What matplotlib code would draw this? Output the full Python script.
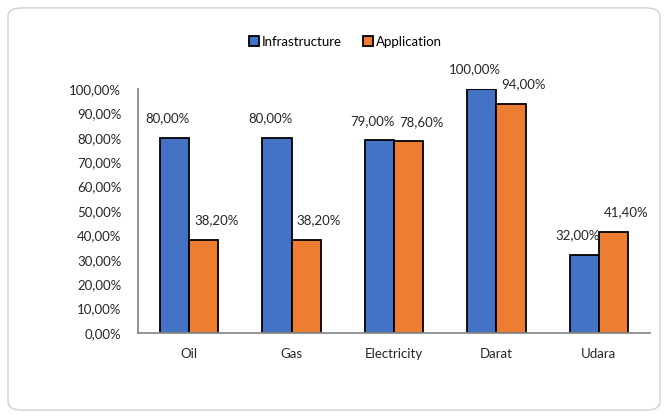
import matplotlib

matplotlib.use("Agg")
import matplotlib.pyplot as plt
import numpy as np
from matplotlib.patches import FancyBboxPatch
from matplotlib.ticker import FuncFormatter

CATEGORIES = ["Oil", "Gas", "Electricity", "Darat", "Udara"]
INFRASTRUCTURE = [0.80, 0.80, 0.79, 1.00, 0.32]
APPLICATION = [0.382, 0.382, 0.786, 0.94, 0.414]
SERIES = ["Infrastructure", "Application"]

BLUE = "#4472C4"
ORANGE = "#ED7D31"

plt.rcParams["font.family"] = ["Lato", "DejaVu Sans"]


def pct(v, _pos=None):
    return f"{v * 100:.2f}%".replace(".", ",")


fig = plt.figure(figsize=(6.68, 4.18), dpi=100)
fig.patches.append(FancyBboxPatch((0.012, 0.019), 0.976, 0.962,
                                  boxstyle="round,pad=0,rounding_size=0.02",
                                  transform=fig.transFigure, facecolor="white",
                                  edgecolor="#d0d0d0", linewidth=1.0, zorder=-1))

ax = fig.add_axes([0.2066, 0.2033, 0.7664, 0.584])
x = np.arange(len(CATEGORIES))
w = 0.285
b1 = ax.bar(x - w / 2, INFRASTRUCTURE, w, color=BLUE, edgecolor="black", linewidth=1.3,
            label=SERIES[0])
b2 = ax.bar(x + w / 2, APPLICATION, w, color=ORANGE, edgecolor="black", linewidth=1.3,
            label=SERIES[1])

for bars, dx in ((b1, -5), (b2, 9)):
    for r in bars:
        ax.annotate(pct(r.get_height()), (r.get_x() + r.get_width() / 2, r.get_height()),
                    xytext=(dx, 14), textcoords="offset points", ha="center", va="center",
                    fontsize=9.5, color="#262626")

ax.set_xlim(-0.5, len(CATEGORIES) - 0.5)
ax.set_ylim(0, 1.0)
ax.set_yticks(np.arange(0, 1.01, 0.1))
ax.yaxis.set_major_formatter(FuncFormatter(pct))
ax.set_xticks(x)
ax.set_xticklabels(CATEGORIES)
ax.tick_params(axis="both", length=0, labelsize=9.5, colors="#262626")
ax.tick_params(axis="y", pad=12)
ax.tick_params(axis="x", pad=11)
for s in ("top", "right"):
    ax.spines[s].set_visible(False)
for s in ("left", "bottom"):
    ax.spines[s].set_color("#8c8c8c")
    ax.spines[s].set_linewidth(1.3)

fig.legend(loc="center", bbox_to_anchor=(0.517, 0.9), ncol=2, frameon=False, fontsize=9.5,
           handlelength=0.8, handleheight=0.8, handletextpad=0.2, columnspacing=1.6)

fig.savefig("out.png", dpi=100)
